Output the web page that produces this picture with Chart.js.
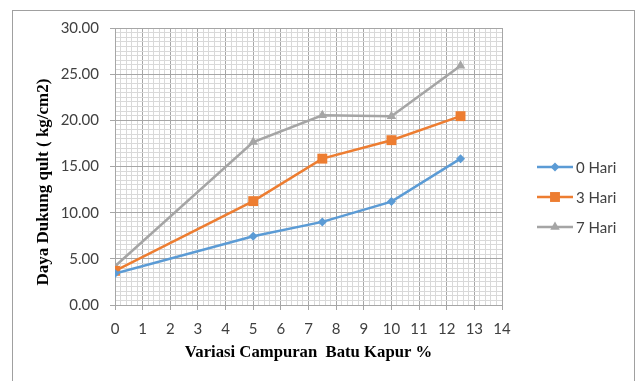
<!DOCTYPE html>
<html>
<head>
<meta charset="utf-8">
<script src="https://cdn.jsdelivr.net/npm/chart.js@4/dist/chart.umd.min.js"></script>
<style>
  html, body { margin: 0; padding: 0; background: #ffffff; }
  #wrap { width: 640px; height: 381px; }
</style>
</head>
<body>
<div id="wrap"><canvas id="c" width="640" height="381"></canvas></div>
<script>
// Lime mixing percentage (x) and bearing capacity qult in kg/cm2 (y)
const campuran = [0, 5, 7.5, 10, 12.5];
const hari0 = [3.40, 7.45, 9.00, 11.20, 15.85];
const hari3 = [3.70, 11.25, 15.85, 17.85, 20.45];
const hari7 = [4.20, 17.65, 20.55, 20.45, 25.90];
const seriesNames = ['0 Hari', '3 Hari', '7 Hari'];
const xTitle = 'Variasi Campuran  Batu Kapur %';
const yTitle = 'Daya Dukung qult ( kg/cm2)';

const colors = ['#5b9bd5', '#ed7d31', '#a5a5a5'];
const markers = ['rectRot', 'rect', 'triangle'];
const markerRadius = [4.5, 7, 5.5];

const tickFont = { family: 'Lato', size: 15 };
const majorGrid = '#a6a6a6';
const minorGrid = '#d9d9d9';

function toPoints(ys) {
  return campuran.map((x, i) => ({ x: x, y: ys[i] }));
}

const isMultiple = (v, step) => Math.abs(v / step - Math.round(v / step)) < 1e-6;

// Outer frame around the chart
const framePlugin = {
  id: 'frame',
  beforeDraw(chart) {
    const ctx = chart.ctx;
    ctx.save();
    ctx.fillStyle = '#ffffff';
    ctx.fillRect(0, 0, chart.width, chart.height);
    ctx.strokeStyle = '#a0a0a0';
    ctx.lineWidth = 1;
    ctx.strokeRect(12.5, 10.5, 622, 400);
    ctx.restore();
  }
};

// Vertical value-axis title, set a little below the plot's middle
const yTitlePlugin = {
  id: 'yTitle',
  afterDraw(chart) {
    const ctx = chart.ctx;
    ctx.save();
    ctx.translate(44, 182);
    ctx.rotate(-Math.PI / 2);
    ctx.font = 'bold 17px "Liberation Serif"';
    ctx.fillStyle = '#000000';
    ctx.textAlign = 'center';
    ctx.textBaseline = 'middle';
    ctx.fillText(yTitle, 0, 0);
    ctx.restore();
  }
};

function drawMarker(ctx, style, x, y, r) {
  ctx.beginPath();
  if (style === 'rectRot') {
    ctx.moveTo(x, y - r); ctx.lineTo(x + r, y); ctx.lineTo(x, y + r); ctx.lineTo(x - r, y);
  } else if (style === 'rect') {
    const s = r * Math.SQRT1_2;
    ctx.rect(x - s, y - s, 2 * s, 2 * s);
  } else {
    const h = r * Math.sin(Math.PI / 3);
    ctx.moveTo(x, y - r);
    ctx.lineTo(x + h, y + r / 2);
    ctx.lineTo(x - h, y + r / 2);
  }
  ctx.closePath();
  ctx.fill();
}

// Legend on the right: line sample with marker, then series name
const sideLegend = {
  id: 'sideLegend',
  afterDraw(chart) {
    const ctx = chart.ctx;
    ctx.save();
    chart.data.datasets.forEach((ds, i) => {
      const y = 167 + i * 30;
      ctx.strokeStyle = ds.borderColor;
      ctx.lineWidth = 2.5;
      ctx.beginPath();
      ctx.moveTo(537, y);
      ctx.lineTo(573, y);
      ctx.stroke();
      ctx.fillStyle = ds.pointBackgroundColor;
      drawMarker(ctx, ds.pointStyle, 555, y, ds.pointRadius);
      ctx.fillStyle = '#404040';
      ctx.font = '15px Lato';
      ctx.textBaseline = 'middle';
      ctx.textAlign = 'left';
      ctx.fillText(ds.label, 576, y + 1);
    });
    ctx.restore();
  }
};

const datasets = [hari0, hari3, hari7].map((ys, i) => ({
  label: seriesNames[i],
  data: toPoints(ys),
  borderColor: colors[i],
  backgroundColor: colors[i],
  pointBackgroundColor: colors[i],
  pointBorderColor: colors[i],
  pointBorderWidth: 0,
  pointStyle: markers[i],
  pointRadius: markerRadius[i],
  borderWidth: 2.5,
  tension: 0
}));

new Chart(document.getElementById('c'), {
  type: 'line',
  data: { datasets: datasets },
  options: {
    responsive: false,
    animation: false,
    devicePixelRatio: 1,
    layout: { padding: { left: 0, top: 28, right: 138, bottom: 0 } },
    plugins: { legend: { display: false }, tooltip: { enabled: false } },
    scales: {
      x: {
        type: 'linear',
        min: 0,
        max: 14,
        afterFit(scale) { scale.height = 76; },
        ticks: {
          stepSize: 0.2,
          autoSkip: false,
          maxRotation: 0,
          padding: 10,
          color: '#404040',
          font: tickFont,
          callback: (v) => isMultiple(v, 1) ? String(Math.round(v)) : ''
        },
        grid: {
          color: (c) => isMultiple(c.tick.value, 1) ? majorGrid : minorGrid,
          tickColor: (c) => isMultiple(c.tick.value, 1) ? majorGrid : 'rgba(0,0,0,0)',
          tickLength: 5,
          lineWidth: 1
        },
        border: { color: majorGrid },
        title: {
          display: true,
          text: xTitle,
          color: '#000000',
          font: { family: 'Liberation Serif', size: 16.7, weight: 'bold' },
          padding: { top: 0, bottom: 18 }
        }
      },
      y: {
        type: 'linear',
        min: 0,
        max: 30,
        afterFit(scale) { scale.width = 115; },
        ticks: {
          stepSize: 0.5,
          autoSkip: false,
          padding: 11,
          color: '#404040',
          font: tickFont,
          callback: (v) => isMultiple(v, 5) ? v.toFixed(2) : ''
        },
        grid: {
          color: (c) => isMultiple(c.tick.value, 5) ? majorGrid : minorGrid,
          tickColor: (c) => isMultiple(c.tick.value, 5) ? majorGrid : 'rgba(0,0,0,0)',
          tickLength: 5,
          lineWidth: 1
        },
        border: { color: majorGrid }
      }
    }
  },
  plugins: [framePlugin, yTitlePlugin, sideLegend]
});
</script>
</body>
</html>
